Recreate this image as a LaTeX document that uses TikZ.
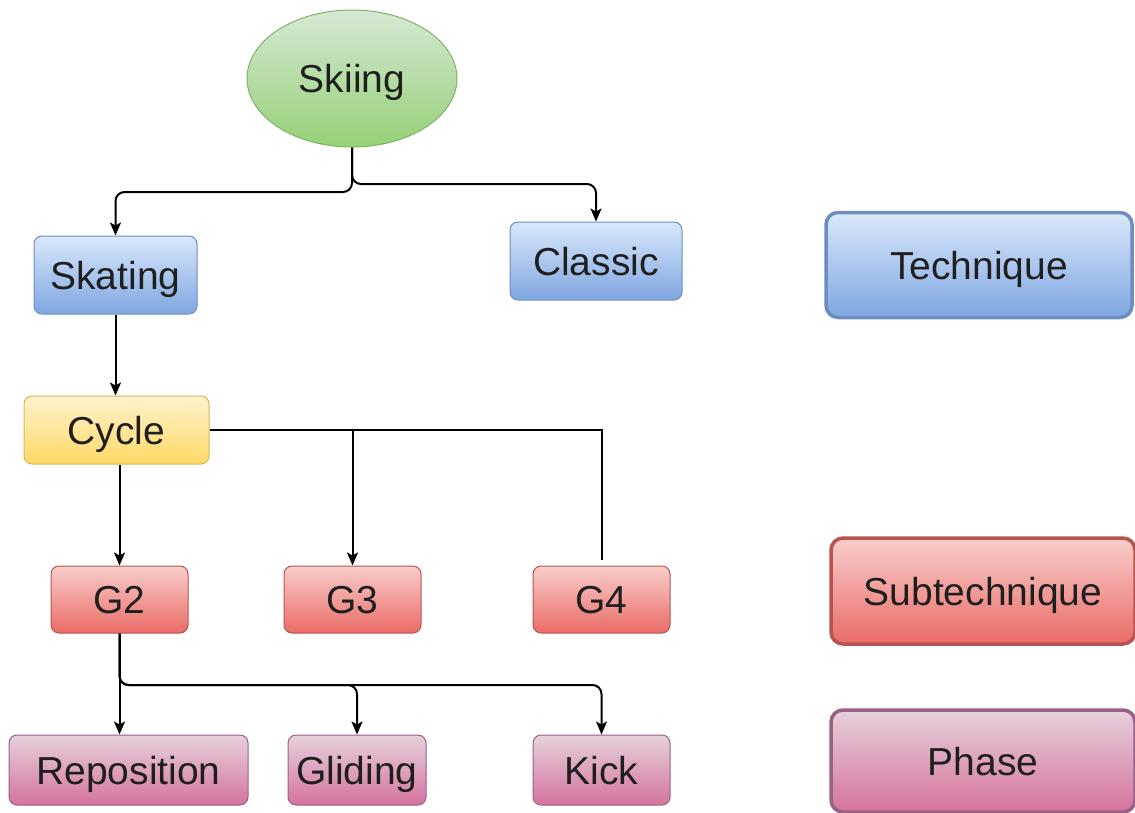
\documentclass[tikz,border=0pt]{standalone}
\usepackage{fontspec}
\setmainfont{Liberation Sans}
\usetikzlibrary{shapes.geometric,arrows.meta}
\definecolor{bluetop}{HTML}{DAE8FC}\definecolor{bluebot}{HTML}{7EA6E0}\definecolor{bluedraw}{HTML}{6C8EBF}
\definecolor{redtop}{HTML}{F8CECC}\definecolor{redbot}{HTML}{EA6B66}\definecolor{reddraw}{HTML}{B85450}
\definecolor{yeltop}{HTML}{FFF2CC}\definecolor{yelbot}{HTML}{FFD966}\definecolor{yeldraw}{HTML}{D6B656}
\definecolor{grntop}{HTML}{D5E8D4}\definecolor{grnbot}{HTML}{97D077}\definecolor{grndraw}{HTML}{82B366}
\definecolor{pnktop}{HTML}{E6D0DE}\definecolor{pnkbot}{HTML}{D5739D}\definecolor{pnkdraw}{HTML}{996185}
\tikzset{
  txt/.style={font=\fontsize{39}{44}\selectfont, text=black!88, text height=28pt, text depth=0pt},
  box/.style={rectangle, rounded corners=8pt, line width=1pt, inner sep=0pt, txt},
  techbox/.style={box, top color=bluetop, bottom color=bluebot, draw=bluedraw},
  subbox/.style={box, top color=redtop, bottom color=redbot, draw=reddraw},
  cycbox/.style={box, top color=yeltop, bottom color=yelbot, draw=yeldraw},
  phbox/.style={box, top color=pnktop, bottom color=pnkbot, draw=pnkdraw},
  legend/.style={line width=3.5pt, rounded corners=12pt},
  arr/.style={line width=2pt, -{Stealth[length=13pt,width=11pt,inset=3pt]}},
  ln/.style={line width=2pt},
}
\begin{document}
\begin{tikzpicture}[x=1pt,y=-1pt]
\useasboundingbox (0,0) rectangle (1135,812);
\node[ellipse, top color=grntop, bottom color=grnbot, draw=grndraw, line width=1pt, minimum width=210pt, minimum height=137pt, inner sep=0pt, txt] (ski) at (352,78.5) {Skiing};
\node[techbox, minimum width=163pt, minimum height=78pt] (skate) at (115.5,275) {Skating};
\node[techbox, minimum width=172pt, minimum height=78pt] (classic) at (596,261) {Classic};
\node[cycbox, minimum width=185pt, minimum height=68pt] (cycle) at (116.5,430) {Cycle};
\node[subbox, minimum width=137pt, minimum height=67pt] (g2) at (119.5,599.5) {G2};
\node[subbox, minimum width=137pt, minimum height=67pt] (g3) at (352.5,599.5) {G3};
\node[subbox, minimum width=137pt, minimum height=67pt] (g4) at (601.5,599.5) {G4};
\node[phbox, minimum width=239pt, minimum height=70pt] (repo) at (128.5,770) {Reposition};
\node[phbox, minimum width=138pt, minimum height=70pt] (glide) at (357,770) {Gliding};
\node[phbox, minimum width=137pt, minimum height=70pt] (kick) at (601.5,770) {Kick};
\node[techbox, legend, minimum width=306pt, minimum height=105pt] (ltech) at (979,265) {Technique};
\node[subbox, legend, minimum width=304pt, minimum height=106pt] (lsub) at (983,591) {Subtechnique};
\node[phbox, legend, minimum width=304pt, minimum height=102pt] (lph) at (983,761) {Phase};
% connectors
\draw[arr, rounded corners=9pt] (ski.south) -- (352,192) -| (skate.north);
\draw[arr, rounded corners=9pt] (ski.south) -- (352,184) -| (classic.north);
\draw[arr] (skate.south) -- (cycle.north -| skate.south);
\draw[arr] (cycle.south -| g2.north) -- (g2.north);
\coordinate (j3) at (g3.north |- cycle.east);
\coordinate (g4end) at ([yshift=6pt]g4.north);
\draw[ln] (cycle.east) -| (g4end);
\draw[arr] (j3) -- (g3.north);
\coordinate (j2) at (g2.south |- 0,685);
\draw[arr] (g2.south) -- (g2.south |- repo.north);
\draw[arr, rounded corners=9pt] (g2.south) -- (j2) -| (glide.north);
\draw[arr, rounded corners=9pt] (g2.south) -- (j2) -| (kick.north);
\end{tikzpicture}
\end{document}
